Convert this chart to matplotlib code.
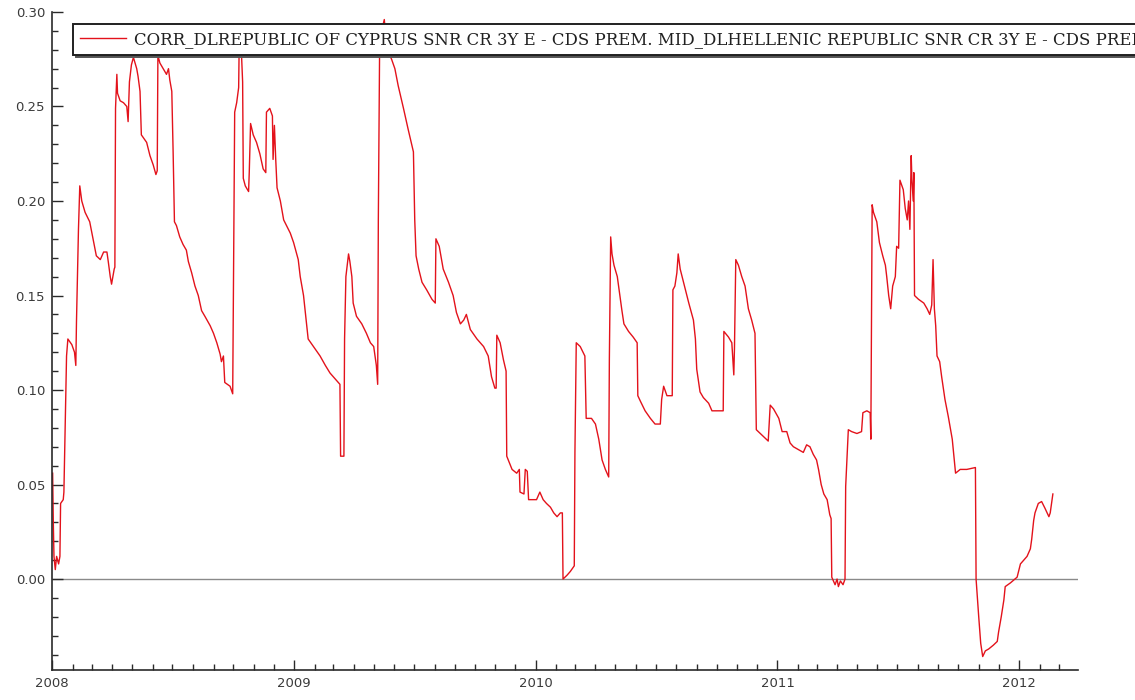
import pandas as pd
import matplotlib
matplotlib.use('Agg')
import matplotlib.pyplot as plt
import matplotlib.dates as mdates
from matplotlib.ticker import MultipleLocator, FormatStrFormatter

# rolling correlation of the two CDS premium changes, days counted from 2008-01-01
start = pd.Timestamp('2008-01-01')
days = [
    1, 2, 3, 5, 7, 10, 12, 13, 17, 18, 20, 22, 24, 30, 34, 36, 37, 40, 42, 45,
    50, 57, 62, 67, 73, 78, 83, 85, 88, 90, 94, 95, 96, 98, 99, 103, 108, 113, 115, 117,
    120, 123, 128, 130, 133, 135, 143, 148, 153, 157, 159, 160, 163, 168, 173, 176, 178, 181, 183, 185,
    188, 193, 198, 203, 206, 211, 216, 221, 226, 231, 239, 244, 249, 254, 256, 259, 261, 269, 273, 274,
    276, 279, 282, 283, 284, 286, 288, 289, 292, 297, 298, 300, 304, 309, 314, 319, 323, 324, 329, 333,
    334, 336, 338, 340, 345, 350, 360, 365, 372, 375, 380, 384, 387, 395, 405, 413, 420, 430, 435, 436,
    441, 442, 444, 448, 450, 453, 455, 460, 468, 475, 481, 486, 490, 492, 493, 495, 498, 502, 505, 508,
    513, 518, 523, 531, 538, 546, 548, 550, 554, 559, 566, 574, 579, 580, 585, 591, 599, 606, 611, 617,
    622, 626, 632, 642, 652, 659, 664, 669, 671, 672, 677, 682, 686, 687, 695, 702, 706, 707, 713, 715,
    718, 720, 732, 737, 742, 747, 753, 758, 763, 768, 771, 772, 778, 783, 789, 790, 792, 798, 805, 807,
    815, 821, 826, 831, 836, 841, 842, 844, 846, 849, 854, 861, 864, 871, 878, 884, 885, 889, 896, 904,
    911, 919, 921, 924, 929, 937, 938, 941, 944, 946, 949, 954, 962, 969, 972, 974, 979, 984, 992, 997,
    1014, 1015, 1022, 1027, 1030, 1031, 1033, 1037, 1042, 1047, 1052, 1057, 1062, 1064, 1070, 1082, 1085, 1090, 1098, 1103,
    1110, 1115, 1120, 1135, 1140, 1145, 1150, 1155, 1158, 1162, 1166, 1171, 1175, 1177, 1178, 1183, 1186, 1188, 1191, 1195,
    1198, 1199, 1203, 1208, 1216, 1223, 1225, 1231, 1236, 1237, 1239, 1241, 1246, 1250, 1255, 1259, 1261, 1264, 1267, 1270,
    1274, 1276, 1279, 1281, 1286, 1289, 1292, 1294, 1296, 1298, 1299, 1301, 1302, 1303, 1309, 1317, 1322, 1326, 1329, 1331,
    1333, 1335, 1337, 1341, 1344, 1349, 1354, 1360, 1362, 1365, 1372, 1382, 1395, 1396, 1397, 1400, 1403, 1406, 1410, 1415,
    1422, 1428, 1430, 1434, 1438, 1440, 1448, 1458, 1463, 1468, 1473, 1478, 1480, 1483, 1485, 1490, 1495, 1500, 1506, 1508,
    1512,
]
corr = [
    0.056, 0.030, 0.012, 0.005, 0.012, 0.008, 0.012, 0.040, 0.042, 0.046, 0.083, 0.118, 0.127, 0.124, 0.120, 0.113, 0.136, 0.185, 0.208, 0.200,
    0.194, 0.189, 0.180, 0.171, 0.169, 0.173, 0.173, 0.168, 0.160, 0.156, 0.164, 0.165, 0.249, 0.267, 0.257, 0.253, 0.252, 0.250, 0.242, 0.263,
    0.272, 0.276, 0.270, 0.266, 0.258, 0.235, 0.231, 0.224, 0.219, 0.214, 0.216, 0.277, 0.273, 0.270, 0.267, 0.270, 0.264, 0.258, 0.226, 0.189,
    0.187, 0.181, 0.177, 0.174, 0.168, 0.162, 0.155, 0.150, 0.142, 0.139, 0.134, 0.130, 0.125, 0.119, 0.115, 0.118, 0.104, 0.102, 0.098, 0.150,
    0.247, 0.252, 0.260, 0.288, 0.292, 0.280, 0.263, 0.212, 0.208, 0.205, 0.215, 0.241, 0.235, 0.231, 0.225, 0.217, 0.215, 0.247, 0.249, 0.245,
    0.222, 0.240, 0.222, 0.207, 0.200, 0.190, 0.183, 0.178, 0.169, 0.160, 0.150, 0.137, 0.127, 0.123, 0.118, 0.113, 0.109, 0.105, 0.103, 0.065,
    0.065, 0.127, 0.160, 0.172, 0.168, 0.160, 0.146, 0.139, 0.135, 0.130, 0.125, 0.123, 0.113, 0.103, 0.190, 0.284, 0.290, 0.296, 0.284, 0.279,
    0.275, 0.270, 0.261, 0.249, 0.238, 0.226, 0.190, 0.171, 0.164, 0.157, 0.153, 0.148, 0.146, 0.180, 0.176, 0.164, 0.157, 0.150, 0.141, 0.135,
    0.137, 0.140, 0.132, 0.127, 0.123, 0.118, 0.107, 0.101, 0.101, 0.129, 0.125, 0.116, 0.110, 0.065, 0.058, 0.056, 0.058, 0.046, 0.045, 0.058,
    0.057, 0.042, 0.042, 0.046, 0.042, 0.040, 0.038, 0.035, 0.033, 0.035, 0.035, 0.000, 0.002, 0.004, 0.007, 0.067, 0.125, 0.123, 0.118, 0.085,
    0.085, 0.082, 0.074, 0.063, 0.058, 0.054, 0.116, 0.181, 0.172, 0.166, 0.160, 0.142, 0.135, 0.131, 0.128, 0.125, 0.097, 0.094, 0.089, 0.085,
    0.082, 0.082, 0.095, 0.102, 0.097, 0.097, 0.153, 0.155, 0.162, 0.172, 0.164, 0.157, 0.146, 0.137, 0.127, 0.111, 0.099, 0.096, 0.093, 0.089,
    0.089, 0.131, 0.128, 0.125, 0.108, 0.122, 0.169, 0.166, 0.160, 0.155, 0.143, 0.137, 0.130, 0.079, 0.077, 0.073, 0.092, 0.090, 0.085, 0.078,
    0.078, 0.072, 0.070, 0.067, 0.071, 0.070, 0.066, 0.063, 0.058, 0.050, 0.045, 0.042, 0.034, 0.032, 0.001, -0.003, 0.000, -0.004, -0.001, -0.003,
    0.000, 0.049, 0.079, 0.078, 0.077, 0.078, 0.088, 0.089, 0.088, 0.074, 0.198, 0.194, 0.189, 0.178, 0.171, 0.166, 0.160, 0.150, 0.143, 0.155,
    0.160, 0.176, 0.175, 0.211, 0.206, 0.196, 0.190, 0.200, 0.185, 0.224, 0.212, 0.200, 0.215, 0.150, 0.148, 0.146, 0.143, 0.140, 0.145, 0.169,
    0.143, 0.134, 0.118, 0.115, 0.107, 0.095, 0.086, 0.074, 0.067, 0.056, 0.058, 0.058, 0.059, 0.000, -0.005, -0.020, -0.034, -0.041, -0.038, -0.037,
    -0.035, -0.033, -0.028, -0.020, -0.011, -0.004, -0.002, 0.001, 0.008, 0.010, 0.012, 0.016, 0.021, 0.031, 0.035, 0.040, 0.041, 0.0375, 0.033, 0.035,
    0.045,
]
series_label = ('CORR_DLREPUBLIC OF CYPRUS SNR CR 3Y E - CDS PREM. MID_'
                'DLHELLENIC REPUBLIC SNR CR 3Y E - CDS PREM. MID')

dates = start + pd.to_timedelta(days, unit='D')

fig = plt.figure(figsize=(11.35, 7), dpi=100)
ax = fig.add_axes([0.0458, 0.0429, 0.904, 0.940])

ax.axhline(0, color='#8a8a8a', lw=1.0, zorder=1)
ax.plot(dates, corr, color='#e3121b', lw=1.0, label=series_label, zorder=2)

ax.set_xlim(start, pd.Timestamp('2012-03-30'))
ax.set_ylim(-0.0481, 0.30)

# frame only on the left and bottom, ticks pointing into the plot
for side in ['top', 'right']:
    ax.spines[side].set_visible(False)
for side in ['left', 'bottom']:
    ax.spines[side].set_color('#2a2a2a')
    ax.spines[side].set_linewidth(1.2)

ax.xaxis.set_major_locator(mdates.YearLocator())
ax.xaxis.set_major_formatter(mdates.DateFormatter('%Y'))
ax.xaxis.set_minor_locator(mdates.MonthLocator())
ax.yaxis.set_major_locator(MultipleLocator(0.05))
ax.yaxis.set_minor_locator(MultipleLocator(0.01))
ax.yaxis.set_major_formatter(FormatStrFormatter('%.2f'))

ax.tick_params(which='both', direction='in', color='#2a2a2a', labelcolor='#3a3a3a',
               labelsize=9.5, width=1.0)
ax.tick_params(axis='y', which='major', length=8, pad=5)
ax.tick_params(axis='y', which='minor', length=4)
ax.tick_params(axis='x', which='major', length=7, pad=5)
ax.tick_params(axis='x', which='minor', length=4)

# the long series name runs past the right edge of the figure
leg = ax.legend(loc='upper left', bbox_to_anchor=(0.0205, 0.981), borderaxespad=0,
                fancybox=False, framealpha=1, edgecolor='#202020',
                prop={'family': 'DejaVu Serif', 'size': 11.9},
                handlelength=2.8, handletextpad=0.5, borderpad=0.4,
                shadow={'color': '#555555', 'alpha': 1})
leg.get_frame().set_linewidth(1.4)
for t in leg.get_texts():
    t.set_color('#202020')

fig.savefig('out.png', dpi=100)
